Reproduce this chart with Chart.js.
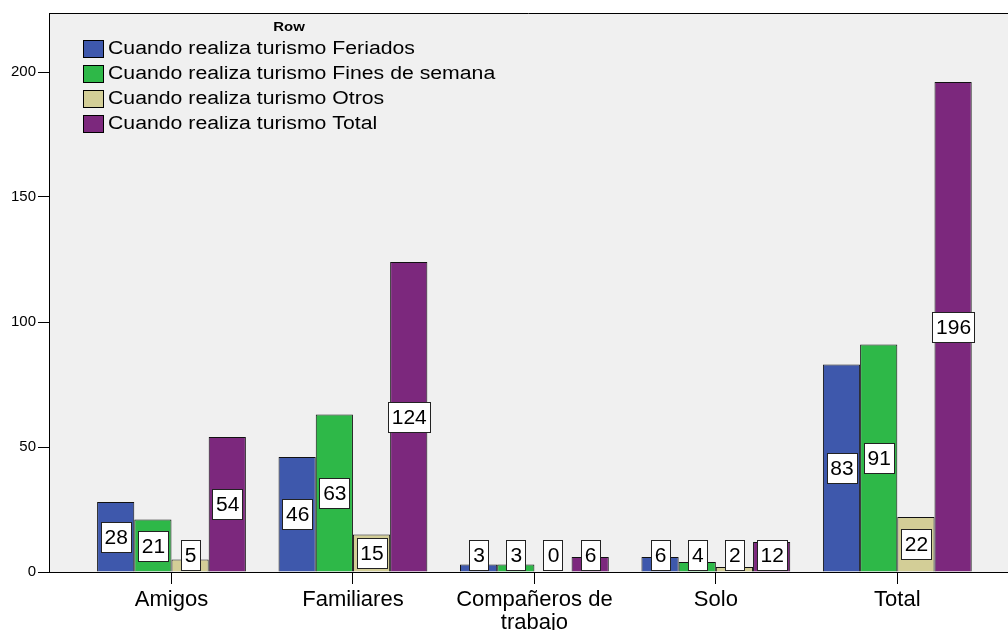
<!DOCTYPE html>
<html>
<head>
<meta charset="utf-8">
<script src="https://cdn.jsdelivr.net/npm/chart.js@4"></script>
<style>
  html, body { margin: 0; padding: 0; background: #fff; overflow: hidden; }
  #wrap { width: 1008px; height: 630px; position: relative; }
</style>
</head>
<body>
<div id="wrap"><canvas id="chart"></canvas></div>
<script>
"use strict";
const categories = ["Amigos", "Familiares", ["Compañeros de", "trabajo"], "Solo", "Total"];
const seriesNames = [
    "Cuando realiza turismo Feriados",
    "Cuando realiza turismo Fines de semana",
    "Cuando realiza turismo Otros",
    "Cuando realiza turismo Total"
];
const feriados = [28, 46, 3, 6, 83];
const finesDeSemana = [21, 63, 3, 4, 91];
const otros = [5, 15, 0, 2, 22];
const total = [54, 124, 6, 12, 196];
const yTicks = [0, 50, 100, 150, 200];
const colors = ["#3e58ac", "#2eb848", "#d3ce97", "#7c287d"];
const FONT = "'Liberation Sans', Arial, sans-serif";

const seriesValues = [feriados, finesDeSemana, otros, total];
const datasets = seriesValues.map((vals, s) => ({
    label: seriesNames[s],
    data: vals.map((v, i) => ({ x: i, y: v })),
    backgroundColor: colors[s],
    borderColor: "#111",
    borderWidth: 1,
    borderSkipped: "bottom",
    categoryPercentage: 0.82,
    barPercentage: 1
}));

const areaBg = {
    id: "areaBg",
    beforeDraw(chart) {
        const { ctx, chartArea: a } = chart;
        ctx.save();
        ctx.fillStyle = "#f0f0f0";
        ctx.fillRect(a.left, a.top, a.right - a.left, a.bottom - a.top);
        ctx.strokeStyle = "#000";
        ctx.lineWidth = 1;
        ctx.beginPath();
        ctx.moveTo(a.left, a.top + 0.5);
        ctx.lineTo(a.right, a.top + 0.5);
        ctx.stroke();
        ctx.restore();
    }
};

// text in the original is a bit wider than normal, so squeeze-in a horizontal stretch
function wideText(ctx, txt, x, y, sx) {
    ctx.save();
    ctx.translate(x, y);
    ctx.scale(sx, 1);
    ctx.fillText(txt, 0, 0);
    ctx.restore();
}

const valueLabels = {
    id: "valueLabels",
    afterDatasetsDraw(chart) {
        const ctx = chart.ctx;
        ctx.save();
        ctx.font = "20px " + FONT;
        ctx.textAlign = "center";
        ctx.textBaseline = "middle";
        chart.data.datasets.forEach((ds, di) => {
            const meta = chart.getDatasetMeta(di);
            meta.data.forEach((bar, i) => {
                const txt = String(ds.data[i].y);
                const cy = Math.min((bar.y + bar.base) / 2, bar.base - 17);
                const w = Math.round(ctx.measureText(txt).width * 1.05 + 7);
                const h = 30;
                const left = Math.round(bar.x - w / 2);
                const top = Math.round(cy - h / 2);
                ctx.fillStyle = "#fff";
                ctx.fillRect(left, top, w, h);
                ctx.strokeStyle = "#222";
                ctx.lineWidth = 1;
                ctx.strokeRect(left + 0.5, top + 0.5, w, h);
                ctx.fillStyle = "#000";
                wideText(ctx, txt, bar.x + 0.5, cy + 1.5, 1.05);
            });
        });
        ctx.restore();
    }
};

const innerLegend = {
    id: "innerLegend",
    afterDraw(chart) {
        const ctx = chart.ctx;
        ctx.save();
        ctx.fillStyle = "#000";
        ctx.font = "bold 13px " + FONT;
        ctx.textAlign = "center";
        ctx.textBaseline = "middle";
        wideText(ctx, "Row", 289, 27, 1.15);
        ctx.font = "18px " + FONT;
        ctx.textAlign = "left";
        chart.data.datasets.forEach((ds, i) => {
            const y = 48 + i * 25;
            ctx.fillStyle = ds.backgroundColor;
            ctx.fillRect(83, y - 8, 20, 17);
            ctx.strokeStyle = "#000";
            ctx.lineWidth = 1;
            ctx.strokeRect(83.5, y - 7.5, 20, 17);
            ctx.fillStyle = "#000";
            wideText(ctx, ds.label, 108, y + 1, 1.18);
        });
        ctx.restore();
    }
};

new Chart("chart", {
    type: "bar",
    data: { datasets },
    options: {
        responsive: true,
        maintainAspectRatio: false,
        animation: false,
        layout: { padding: { top: 13, right: 0, left: 0, bottom: 0 } },
        plugins: { legend: { display: false }, tooltip: { enabled: false } },
        scales: {
            x: {
                type: "linear",
                min: -0.675,
                max: 4.61,
                offset: false,
                afterBuildTicks: axis => { axis.ticks = categories.map((c, i) => ({ value: i })); },
                afterFit: axis => { axis.height = 58; },
                ticks: {
                    autoSkip: false,
                    maxRotation: 0,
                    padding: 5,
                    color: "#000",
                    font: { family: FONT, size: 22, lineHeight: 1.02 },
                    callback: v => categories[v]
                },
                grid: { display: true, drawOnChartArea: false, drawTicks: true, tickLength: 12, color: "#000", offset: false },
                border: { display: true, color: "#000", width: 1 }
            },
            y: {
                min: 0,
                max: 223.6,
                afterBuildTicks: axis => { axis.ticks = yTicks.map(v => ({ value: v })); },
                afterFit: axis => { axis.width = 49; },
                ticks: { color: "#000", padding: 2, font: { family: FONT, size: 15 } },
                grid: { display: true, drawOnChartArea: false, drawTicks: true, tickLength: 11, color: "#000" },
                border: { display: true, color: "#000", width: 1 }
            }
        }
    },
    plugins: [areaBg, valueLabels, innerLegend]
});
</script>
</body>
</html>
